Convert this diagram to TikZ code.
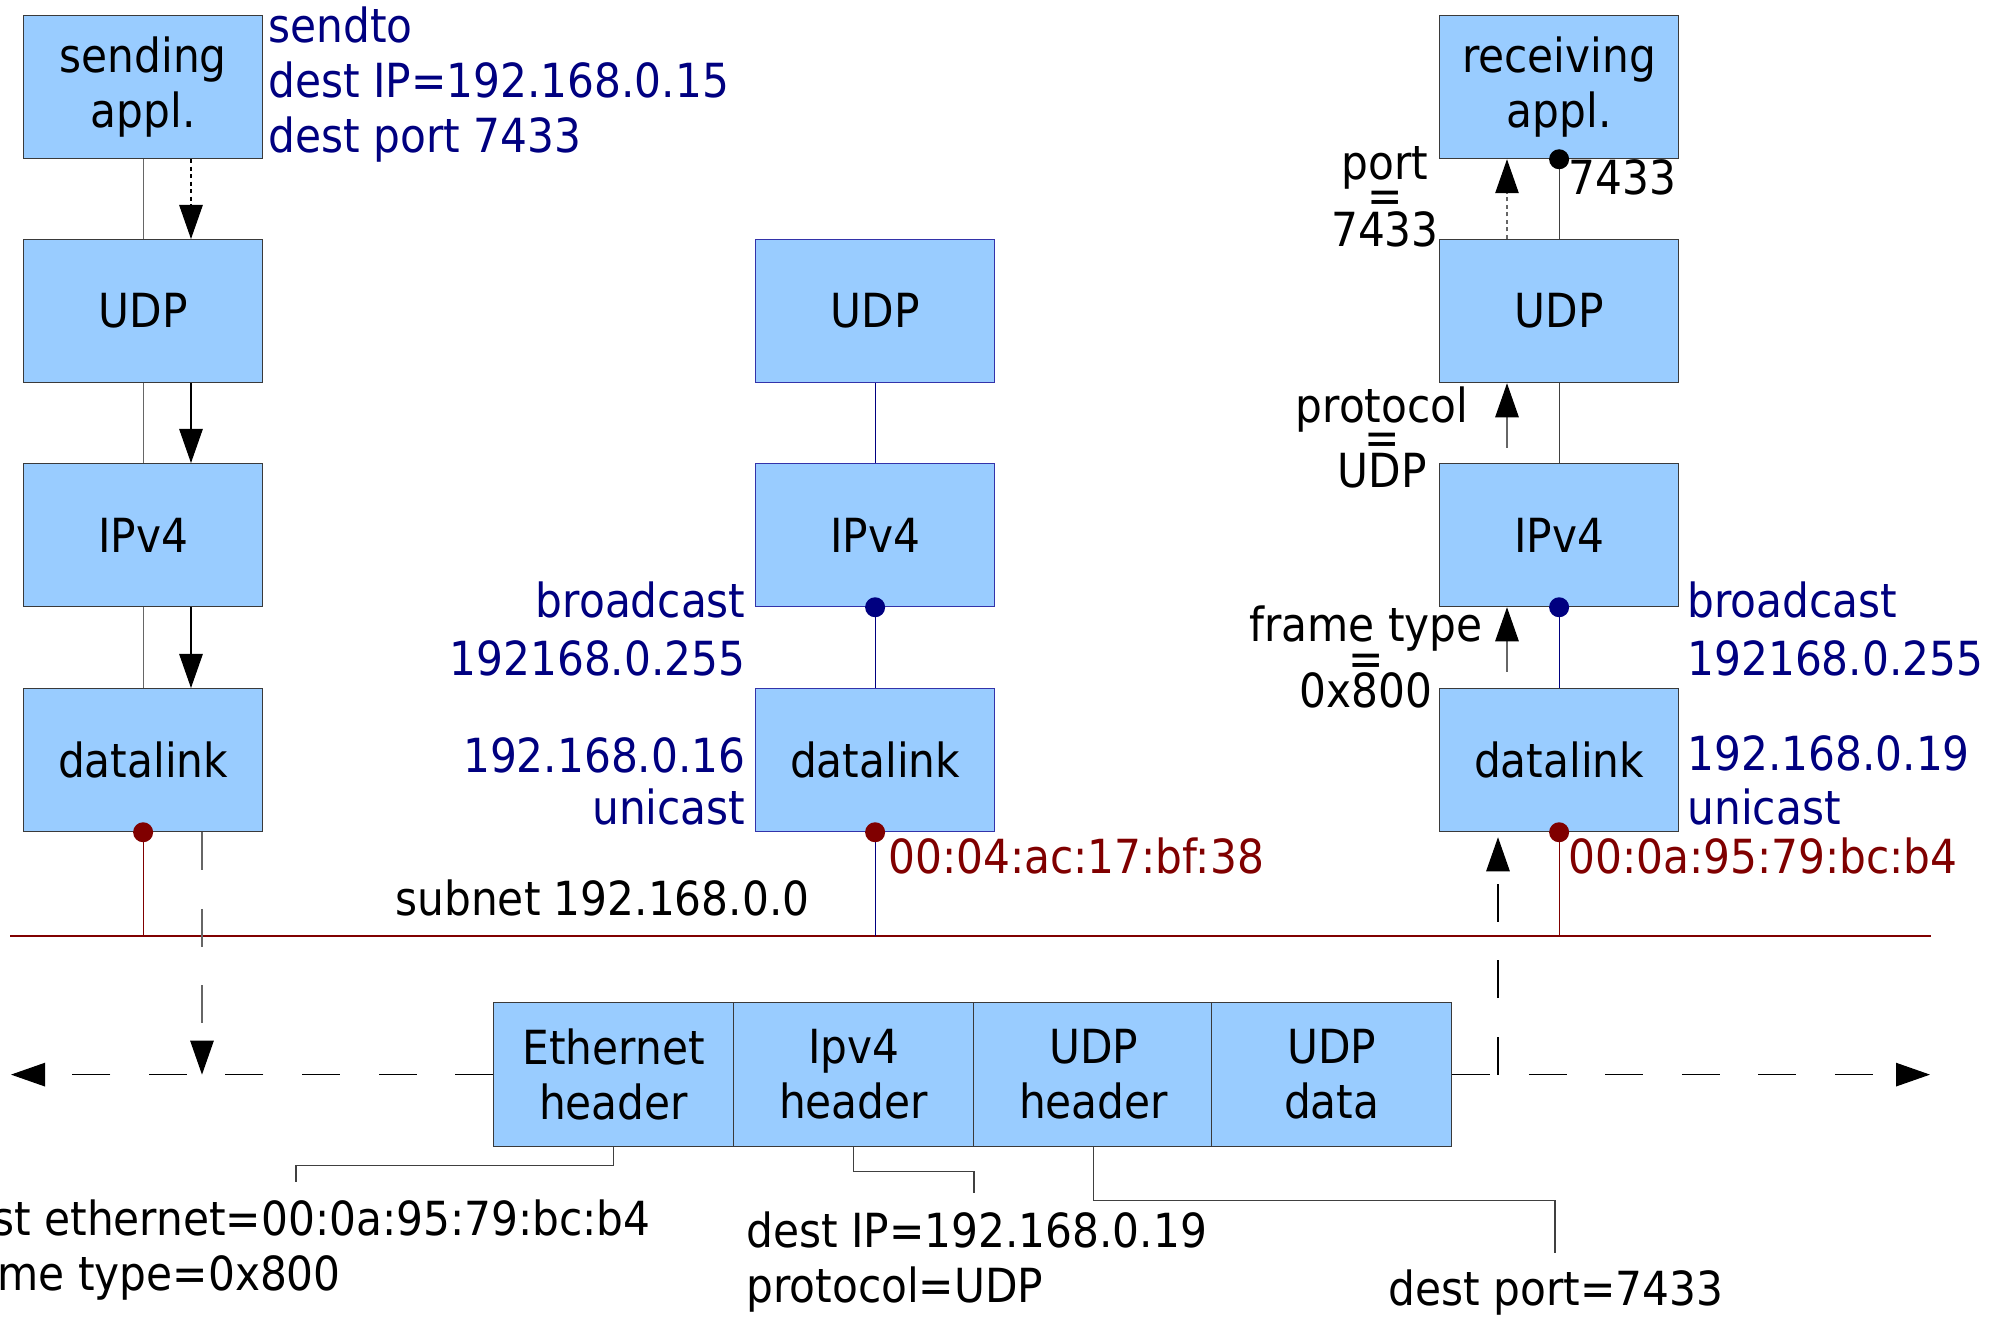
\documentclass[tikz,border=0pt]{standalone}
\usepackage{fontspec}
\setmainfont{DejaVu Sans Condensed}
\usetikzlibrary{arrows.meta,calc}
\definecolor{boxfill}{HTML}{99CCFF}
\definecolor{navytext}{HTML}{000080}
\definecolor{darkred}{HTML}{800000}
\definecolor{boxline}{HTML}{3A3A3A}
\definecolor{midline}{HTML}{3333AA}
\definecolor{connline}{HTML}{666666}
\definecolor{darkconn}{HTML}{404040}
\tikzset{
  layer/.style={draw=boxline, line width=0.5pt, fill=boxfill, minimum width=95.6pt,
    minimum height=57.2pt, inner sep=0pt, align=center, anchor=north west},
  midlayer/.style={layer, draw=midline},
  cell/.style={draw=boxline, line width=0.5pt, fill=boxfill, minimum width=96pt,
    minimum height=57.6pt, inner sep=0pt, align=center, anchor=north west},
  arr/.style={-{Triangle[length=13.6pt,width=9.4pt,color=black,fill=black]}},
  longdash/.style={dash pattern=on 15.2pt off 15.4pt},
  finedash/.style={dash pattern=on 1.6pt off 1.4pt},
  conn/.style={line width=0.45pt},
  lblW/.style={inner sep=0pt, anchor=base west},
  lblE/.style={inner sep=0pt, anchor=base east},
  lblC/.style={inner sep=0pt, anchor=base},
  callout/.style={conn, draw=darkconn},
}
\begin{document}
\begin{tikzpicture}[x=0.4pt,y=-0.4pt,font=\fontsize{18.8}{22}\selectfont]
\useasboundingbox (0,0) rectangle (1996,1318);
\clip (0,0) rectangle (1996,1318);

% ---------- layer boxes ----------
\node[layer] (l0) at (23,15) {sending\\appl.};
\node[layer] (l1) at (23,239) {UDP};
\node[layer] (l2) at (23,463) {IPv4};
\node[layer] (l3) at (23,688) {datalink};

\node[midlayer] (m1) at (755,239) {UDP};
\node[midlayer] (m2) at (755,463) {IPv4};
\node[midlayer] (m3) at (755,688) {datalink};

\node[layer] (r0) at (1439,15) {receiving\\appl.};
\node[layer] (r1) at (1439,239) {UDP};
\node[layer] (r2) at (1439,463) {IPv4};
\node[layer] (r3) at (1439,688) {datalink};

% ---------- packet ----------
\node[cell] (pe) at (493,1002) {Ethernet\\header};
\node[cell] (pi) at (733,1002) {Ipv4\\header};
\node[cell] (pu) at (973,1002) {UDP\\header};
\node[cell] (pd) at (1211,1002) {UDP\\data};

% ---------- helper coordinates ----------
\coordinate (netL) at (10,936);
\coordinate (netR) at (1931,936);
\coordinate (la) at (191,0);
\coordinate (lv) at (202,0);
\coordinate (ra) at (1507,0);
\coordinate (rv) at (1498,0);
\coordinate (hl) at (11,0);
\coordinate (hr) at (1930,0);
\coordinate (ce) at (296,1182);
\coordinate (ci) at (974,1193);
\coordinate (cu) at (1555,1253);

% ---------- subnet ----------
\draw[darkred, line width=0.6pt] (netL) -- (netR);

% ---------- left column ----------
\draw[conn, connline] (l0.south) -- (l1.north);
\draw[conn, connline] (l1.south) -- (l2.north);
\draw[conn, connline] (l2.south) -- (l3.north);
\draw[conn, arr, finedash] (l0.south -| la) -- (l1.north -| la);
\draw[conn, arr] (l1.south -| la) -- (l2.north -| la);
\draw[conn, arr] (l2.south -| la) -- (l3.north -| la);
\draw[conn, darkred] (l3.south) -- (l3.south |- netL);
\fill[darkred] (l3.south) circle (4pt);
\draw[conn, connline, longdash, arr] (l3.south -| lv) -- (lv |- pe.west);

% ---------- packet flow ----------
\draw[conn, longdash, arr] (pe.west) -- (pe.west -| hl);
\draw[conn, longdash, arr] (pd.east) -- (pd.east -| hr);
\draw[conn, longdash, arr] (pd.east -| rv) -- ($(r3.south -| rv)+(0,5)$);

% ---------- middle column ----------
\draw[conn, navytext] (m1.south) -- (m2.north);
\draw[conn, navytext] (m2.south) -- (m3.north);
\draw[conn, navytext] (m3.south) -- (m3.south |- netL);
\fill[navytext] (m2.south) circle (4pt);
\fill[darkred] (m3.south) circle (4pt);

% ---------- right column ----------
\draw[conn, darkconn] (r0.south) -- (r1.north);
\fill (r0.south) circle (4pt);
\draw[conn, connline, finedash, arr] (r1.north -| ra) -- (r0.south -| ra);
\draw[conn, darkconn] (r1.south) -- (r2.north);
\draw[conn, connline, arr] ($(r2.north -| ra)+(0,-15)$) -- (r1.south -| ra);
\draw[conn, navytext] (r2.south) -- (r3.north);
\fill[navytext] (r2.south) circle (4pt);
\draw[conn, connline, arr] ($(r3.north -| ra)+(0,-16)$) -- (r2.south -| ra);
\draw[conn, darkred] (r3.south) -- (r3.south |- netL);
\fill[darkred] (r3.south) circle (4pt);

% ---------- callouts ----------
\draw[callout] (pe.south) -- ++(0,18) -| (ce);
\draw[callout] (pi.south) -- ++(0,24) -| (ci);
\draw[callout] (pu.south) -- ++(0,53) -| (cu);

% ---------- labels ----------
\begin{scope}[navytext]
\node[lblW] (s1) at (268,43) {sendto};
\node[lblW] (s2) at (268,98) {dest IP=192.168.0.15};
\node[lblW] (s3) at (268,153) {dest port 7433};
\node[lblE] (mb1) at (746,618) {broadcast};
\node[lblE] (mb2) at (746,675) {192168.0.255};
\node[lblE] (mu1) at (746,772) {192.168.0.16};
\node[lblE] (mu2) at (746,825) {unicast};
\node[lblW] (rb1) at (1687,618) {broadcast};
\node[lblW] (rb2) at (1687,675) {192168.0.255};
\node[lblW] (ru1) at (1687,771) {192.168.0.19};
\node[lblW] (ru2) at (1687,825) {unicast};
\end{scope}
\begin{scope}[darkred]
\node[lblW] (mmac) at (888,873) {00:04:ac:17:bf:38};
\node[lblW] (rmac) at (1568,873) {00:0a:95:79:bc:b4};
\end{scope}
\node[lblW] (subnet) at (395,915) {subnet 192.168.0.0};
\node[lblW] (port) at (1568,195) {7433};

\node[lblC] (pt1) at (1385,180) {port};
\node[lblC] (pt2) at (1385,213) {=};
\node[lblC] (pt3) at (1385,247) {7433};
\node[lblC] (pr1) at (1382,423) {protocol};
\node[lblC] (pr2) at (1382,455) {=};
\node[lblC] (pr3) at (1382,488) {UDP};
\node[lblC] (ft1) at (1366,642) {frame type};
\node[lblC] (ft2) at (1366,675) {=};
\node[lblC] (ft3) at (1366,708) {0x800};

\node[lblE] (eth1) at (651,1235) {dest ethernet=00:0a:95:79:bc:b4};
\node[lblW] (eth2) at ([yshift=-22pt]eth1.base west) {frame type=0x800};
\node[lblW] (ip1) at (746,1247) {dest IP=192.168.0.19};
\node[lblW] (ip2) at (746,1302) {protocol=UDP};
\node[lblW] (dp) at (1388,1305) {dest port=7433};
\end{tikzpicture}
\end{document}
